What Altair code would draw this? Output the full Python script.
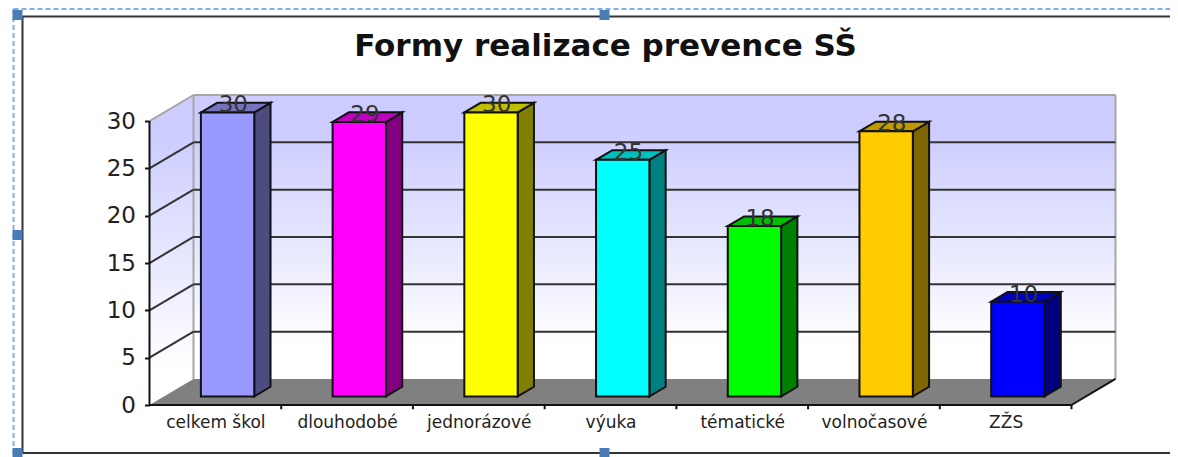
import altair as alt
import pandas as pd

# --- chart values -------------------------------------------------------
categories = ["celkem škol", "dlouhodobé", "jednorázové", "výuka", "tématické", "volnočasové", "ZŽS"]
values = [30, 29, 30, 25, 18, 28, 10]
front_colors = ["#9999FF", "#FF00FF", "#FFFF00", "#00FFFF", "#00FF00", "#FFCC00", "#0000FF"]
side_colors = ["#4C4C7F", "#800080", "#808000", "#008080", "#008000", "#806600", "#000080"]
top_colors = ["#7373BF", "#BF00BF", "#BFBF00", "#00BFBF", "#00BF00", "#BF9900", "#0000BF"]
y_ticks = [0, 5, 10, 15, 20, 25, 30]
chart_title = "Formy realizace prevence SŠ"

# --- pseudo-3D projection, expressed in data units ----------------------
DX, DY = 0.334, 2.75      # full depth of the box
X_MAX, Y_MAX = 7 + DX, 30 + DY
BAR_D0, BAR_D1 = 0.33, 0.70  # depth range of bars as fraction of the box
BAR_L, BAR_W = 0.28, 0.405   # bar start within a category and bar width
TXT = "DejaVu Sans"

xs = alt.Scale(domain=[0, X_MAX], nice=False, zero=False)
ys = alt.Scale(domain=[0, Y_MAX], nice=False, zero=False)
X = lambda f="x", **k: alt.X(f"{f}:Q", scale=xs, title=None, **k)
Y = lambda f="y", **k: alt.Y(f"{f}:Q", scale=ys, title=None, stack=None, **k)
X2 = alt.X2("x2:Q")
Y2 = alt.Y2("y2:Q")

fronts, faces, labels = [], [], []
for i, (v, fc, sc, tc) in enumerate(zip(values, front_colors, side_colors, top_colors)):
    x0 = i + BAR_L + DX * BAR_D0
    x1 = x0 + BAR_W
    b0 = DY * BAR_D0
    t0 = v + b0
    ddx = DX * (BAR_D1 - BAR_D0)
    ddy = DY * (BAR_D1 - BAR_D0)
    fronts.append(dict(x=x0, x2=x1, y=b0, y2=t0, c=fc))
    faces += [
        dict(k=f"s{i}", x=x1, y=b0, y2=t0, c=sc),
        dict(k=f"s{i}", x=x1 + ddx, y=b0 + ddy, y2=t0 + ddy, c=sc),
        dict(k=f"t{i}", x=x0, y=t0, y2=t0, c=tc),
        dict(k=f"t{i}", x=x0 + ddx, y=t0, y2=t0 + ddy, c=tc),
        dict(k=f"t{i}", x=x1, y=t0, y2=t0 + ddy, c=tc),
        dict(k=f"t{i}", x=x1 + ddx, y=t0 + ddy, y2=t0 + ddy, c=tc),
    ]
    labels.append(dict(x=(x0 + x1) / 2 + ddx * 0.35, y=t0 + ddy * 0.75, t=str(v)))

grad = alt.Gradient(
    gradient="linear", x1=0, x2=0, y1=0, y2=1,
    stops=[alt.GradientStop(offset=0.12, color="#CCCCFF"), alt.GradientStop(offset=0.88, color="#FFFFFF")],
)

# axes live on this invisible layer
axes = alt.Chart(pd.DataFrame(dict(x=[i + 0.5 for i in range(7)], y=[0] * 7))).mark_point(opacity=0).encode(
    x=X(axis=alt.Axis(
        values=[i + 0.5 for i in range(7)], domain=False, ticks=False, grid=False,
        labelExpr="[" + ",".join(f"'{c}'" for c in categories) + "][floor(datum.value)]",
        labelFont=TXT, labelFontSize=17, labelColor="#222222", labelPadding=9, labelAngle=0,
    )),
    y=Y(axis=alt.Axis(
        values=y_ticks, domain=False, grid=False, tickColor="#111111", tickWidth=2, tickSize=5,
        labelFont=TXT, labelFontSize=23, labelColor="#222222", labelPadding=9,
    )),
)

back = alt.Chart(pd.DataFrame([dict(x=DX, x2=X_MAX, y=DY, y2=Y_MAX)])).mark_rect(fill=grad).encode(x=X(), x2=X2, y=Y(), y2=Y2)
left = alt.Chart(pd.DataFrame([dict(x=0, y=0, y2=30), dict(x=DX, y=DY, y2=Y_MAX)])).mark_area(fill=grad).encode(x=X(), y=Y(), y2=Y2)
floor = alt.Chart(pd.DataFrame([
    dict(x=0, y=0, y2=0), dict(x=DX, y=0, y2=DY), dict(x=7, y=0, y2=DY), dict(x=X_MAX, y=DY, y2=DY),
])).mark_area(fill="#808080").encode(x=X(), y=Y(), y2=Y2)


def rules(rows, color, width):
    return alt.Chart(pd.DataFrame(rows)).mark_rule(color=color, strokeWidth=width).encode(x=X(), x2=X2, y=Y(), y2=Y2)


gray = rules([
    dict(x=DX, x2=DX, y=DY, y2=Y_MAX), dict(x=DX, x2=X_MAX, y=Y_MAX, y2=Y_MAX),
    dict(x=X_MAX, x2=X_MAX, y=DY, y2=Y_MAX), dict(x=0, x2=DX, y=30, y2=Y_MAX),
], "#A6A6A6", 2)
grid = rules(
    [dict(x=DX, x2=X_MAX, y=t + DY, y2=t + DY) for t in y_ticks[1:-1]]
    + [dict(x=0, x2=DX, y=t, y2=t + DY) for t in y_ticks[1:-1]],
    "#333333", 2,
)
axis_lines = rules(
    [dict(x=0, x2=0, y=0, y2=30), dict(x=0, x2=7, y=0, y2=0), dict(x=7, x2=X_MAX, y=0, y2=DY)]
    + [dict(x=i, x2=i, y=0, y2=-0.45) for i in range(1, 8)],
    "#111111", 2,
)

side_top = alt.Chart(pd.DataFrame(faces)).mark_area(stroke="#111111", strokeWidth=2).encode(
    x=X(), y=Y(), y2=Y2, detail="k:N", fill=alt.Fill("c:N", scale=None),
)
front = alt.Chart(pd.DataFrame(fronts)).mark_rect(stroke="#111111", strokeWidth=2).encode(
    x=X(), x2=X2, y=Y(), y2=Y2, fill=alt.Fill("c:N", scale=None),
)
bar_text = alt.Chart(pd.DataFrame(labels)).mark_text(font=TXT, fontSize=23, color="#333333", baseline="middle").encode(
    x=X(), y=Y(), text="t:N",
)

# surrounding object frame and selection handles, in pixels relative to the plot
frame_rows = pd.DataFrame([
    dict(a=-127, a2=1021, b=-78.5, b2=-78.5),
    dict(a=-127, a2=-127, b=-78.5, b2=358),
    dict(a=-127, a2=1021, b=358, b2=358),
])
frame = alt.Chart(frame_rows).mark_rule(color="#333333", strokeWidth=2).encode(
    x=alt.X("a:Q", scale=None), x2="a2:Q", y=alt.Y("b:Q", scale=None), y2="b2:Q",
)
dash_rows = pd.DataFrame([
    dict(a=-136, a2=1021, b=-86, b2=-86),
    dict(a=-136, a2=-136, b=-86, b2=360),
])
dashes = alt.Chart(dash_rows).mark_rule(color="#7FAEEA", strokeWidth=2, strokeDash=[5, 3]).encode(
    x=alt.X("a:Q", scale=None), x2="a2:Q", y=alt.Y("b:Q", scale=None), y2="b2:Q",
)
handles = alt.Chart(pd.DataFrame(dict(
    a=[-132, 455, -132, 455, -132], b=[-80, -80, 140, 358, 358],
))).mark_square(size=100, color="#4A7DB5", opacity=1).encode(
    x=alt.X("a:Q", scale=None), y=alt.Y("b:Q", scale=None),
)

chart = alt.layer(
    axes, back, left, floor, gray, grid, axis_lines, side_top, front, bar_text, frame, dashes, handles,
).properties(
    width=966, height=310,
    padding={"left": 141.5, "top": 87, "right": 54.5, "bottom": 52},
    autosize=alt.AutoSizeParams(type="none"),
    title=alt.TitleParams(chart_title, font=TXT, fontSize=31, fontWeight="bold", color="#111111",
                          anchor="middle", dx=-27, dy=91, offset=36),
).configure_view(stroke=None)

chart.save("out.html", embed_options={"renderer": "svg", "actions": False})
